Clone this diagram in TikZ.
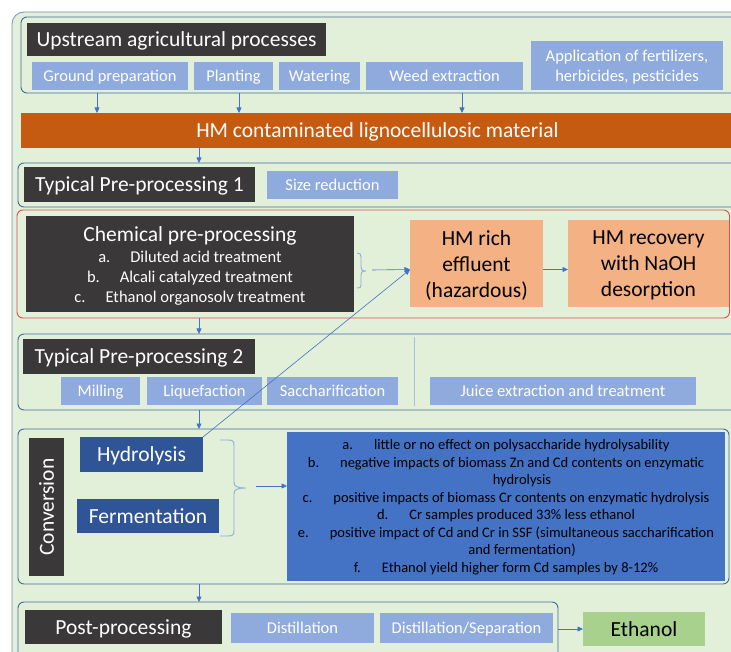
\documentclass[tikz,border=0pt]{standalone}
\usepackage{fontspec}
\setmainfont{Carlito}
\usetikzlibrary{arrows.meta,calc}

\definecolor{bgGreen}{HTML}{E2F0D9}
\definecolor{outerLine}{HTML}{7193C4}
\definecolor{frameLine}{HTML}{44689E}
\definecolor{redLine}{HTML}{DB5050}
\definecolor{darkBox}{HTML}{3A3838}
\definecolor{lightBox}{HTML}{8FAADC}
\definecolor{orangeBar}{HTML}{C55A11}
\definecolor{salmon}{HTML}{F4B183}
\definecolor{navyBox}{HTML}{2F5597}
\definecolor{midBlue}{HTML}{4472C4}
\definecolor{leafGreen}{HTML}{A9D18E}
\definecolor{arrowBlue}{HTML}{4472C4}
\definecolor{braceBlue}{HTML}{8FAADC}
\definecolor{sepBlue}{HTML}{A9BFDD}

% box from corner (x1,y1) to corner (x2,y2): name, style, x1, y1, x2, y2, text
\newcommand\mkbox[7]{%
  \pgfmathsetmacro\mkW{#5-#3}%
  \pgfmathsetmacro\mkH{#6-#4}%
  \node[#2, minimum width=\mkW pt, minimum height=\mkH pt] (#1) at ({(#3+#5)/2},{(#4+#6)/2}) {#7};}

\tikzset{
  every node/.style={inner sep=0pt, outer sep=0pt},
  bigfont/.style={font=\fontsize{21.5}{26}\selectfont},
  smallfont/.style={font=\fontsize{16.5}{20.5}\selectfont},
  listfont/.style={font=\fontsize{14.5}{17.5}\selectfont},
  bigline/.style={text height=17pt, text depth=3pt},
  smallline/.style={text height=14.5pt, text depth=3pt},
  outerframe/.style={draw=outerLine, fill=bgGreen, line width=0.8pt, rounded corners=12pt},
  frame/.style={draw=frameLine, line width=0.9pt, rounded corners=6pt},
  redframe/.style={draw=redLine, line width=0.9pt, rounded corners=6pt},
  darkplain/.style={fill=darkBox},
  darkbox/.style={fill=darkBox, text=white, bigfont, bigline},
  lightbox/.style={fill=lightBox, text=white, smallfont, smallline},
  lightplain/.style={fill=lightBox},
  orangebar/.style={fill=orangeBar, text=white, bigfont, bigline},
  salmonbox/.style={fill=salmon},
  navybox/.style={fill=navyBox, text=white, bigfont, bigline},
  resultbox/.style={fill=midBlue},
  greenbox/.style={fill=leafGreen, text=black, bigfont, bigline},
  multitext/.style={align=center},
  arr/.style={draw=arrowBlue, line width=0.6pt, -{Triangle[length=5.5pt,width=5pt]}},
  braceline/.style={draw=braceBlue, line width=0.9pt},
  sepline/.style={draw=sepBlue, line width=1pt},
}

\begin{document}
\begin{tikzpicture}[x=1pt,y=-1pt]
\clip (0,0) rectangle (731,652);
\fill[white] (0,0) rectangle (731,652);

% outer panel
\mkbox{outer}{outerframe}{12}{12}{760}{690}{}

% upstream agricultural processes
\mkbox{upF}{frame}{21}{17}{740}{93}{}
\mkbox{upT}{darkbox}{27}{23}{326}{56}{Upstream agricultural processes}
\mkbox{gp}{lightbox}{32}{62}{188}{90}{Ground preparation}
\mkbox{pl}{lightbox}{194}{62}{273}{90}{Planting}
\mkbox{wa}{lightbox}{279}{62}{360}{90}{Watering}
\mkbox{we}{lightbox}{366}{62}{523}{90}{Weed extraction}
\mkbox{ap}{lightplain}{531}{41}{723}{90}{}
\node[multitext, smallfont, text=white] (apTxt) at ([yshift=-1.5pt]ap.center) {Application of fertilizers,\\herbicides, pesticides};

% contaminated material
\mkbox{hm}{orangebar}{21}{113}{734}{148}{HM contaminated lignocellulosic material}

% typical pre-processing 1
\mkbox{tpOneF}{frame}{18}{163}{740}{207}{}
\mkbox{tpOneT}{darkbox}{24}{167}{255}{202}{Typical Pre-processing 1}
\mkbox{sr}{lightbox}{267}{171}{398}{199}{Size reduction}

% chemical pre-processing
\mkbox{chF}{redframe}{17}{210}{729.5}{318}{}
\mkbox{chT}{darkplain}{26}{216}{354}{312}{}
\node[bigfont, text=white, anchor=base] (chTitle) at (190,242) {Chemical pre-processing};
\node[smallfont, text=white, anchor=base] (chA) at (190,263) {a.\hspace{20pt}Diluted acid treatment};
\node[smallfont, text=white, anchor=base] (chB) at (190,283) {b.\hspace{20pt}Alcali catalyzed treatment};
\node[smallfont, text=white, anchor=base] (chC) at (190,303) {c.\hspace{20pt}Ethanol organosolv treatment};
\mkbox{eff}{salmonbox}{410}{220}{543}{307}{}
\node[multitext, bigfont, text=black] (effTxt) at ([yshift=-2pt]eff.center) {HM rich\\effluent\\(hazardous)};
\mkbox{rec}{salmonbox}{568}{220}{729}{307}{}
\node[multitext, bigfont, text=black] (recTxt) at ([yshift=-2pt]rec.center) {HM recovery\\with NaOH\\desorption};

% brace gathering the chemical treatments
\draw[braceline] (357,253) .. controls (360,253) and (361,254) .. (361,257) -- (361,267)
  .. controls (361,270) and (362,271) .. (366,271)
  .. controls (362,271) and (361,272) .. (361,275) -- (361,285)
  .. controls (361,288) and (360,288) .. (357,288);
\coordinate (chTip) at (372,270);

% typical pre-processing 2
\mkbox{tpTwoF}{frame}{18}{334}{740}{410}{}
\mkbox{tpTwoT}{darkbox}{23}{339}{255}{374}{Typical Pre-processing 2}
\mkbox{mi}{lightbox}{61}{377}{140}{405}{Milling}
\mkbox{lq}{lightbox}{147}{377}{262}{405}{Liquefaction}
\mkbox{sa}{lightbox}{267}{377}{398}{405}{Saccharification}
\coordinate (sepTop) at (414,337);
\coordinate (sepBot) at (414,406);
\draw[sepline] (sepTop) -- (sepBot);
\mkbox{ju}{lightbox}{430}{377}{696}{405}{Juice extraction and treatment}

% conversion
\mkbox{cvF}{frame}{18}{429}{729}{584}{}
\mkbox{cvT}{darkplain}{29}{438}{64}{576}{}
\node[bigfont, text=white, rotate=90] (cvTxt) at (cvT.center) {Conversion};
\mkbox{hy}{navybox}{80}{437}{203}{472}{Hydrolysis}
\mkbox{fe}{navybox}{77}{499}{219}{533}{Fermentation}
\draw[braceline] (220,440) -- (228,440) .. controls (233,440) and (234,441) .. (234,446) -- (234,482)
  .. controls (234,486) and (236,488) .. (246,488)
  .. controls (236,488) and (234,490) .. (234,494) -- (234,530)
  .. controls (234,535) and (233,536) .. (228,536) -- (220,536);
\coordinate (cvTip) at (256,486);
\mkbox{res}{resultbox}{287}{432}{725}{581}{}
\node[listfont, anchor=base] (rA) at (506,449.5) {a.\hspace{21pt}little or no effect on polysaccharide hydrolysability};
\node[listfont, anchor=base] (rB) at (506,467) {b.\hspace{21pt}negative impacts of biomass Zn and Cd contents on enzymatic};
\node[listfont, anchor=base] (rBb) at (522,484.5) {hydrolysis};
\node[listfont, anchor=base] (rC) at (506,502) {c.\hspace{21pt}positive impacts of biomass Cr contents on enzymatic hydrolysis};
\node[listfont, anchor=base] (rD) at (506,519.5) {d.\hspace{21pt}Cr samples produced 33\% less ethanol};
\node[listfont, anchor=base] (rE) at (506,537) {e.\hspace{21pt}positive impact of Cd and Cr in SSF (simultaneous saccharification};
\node[listfont, anchor=base] (rEb) at (522,554.5) {and fermentation)};
\node[listfont, anchor=base] (rF) at (506,572) {f.\hspace{21pt}Ethanol yield higher form Cd samples by 8-12\%};

% post-processing
\mkbox{poF}{frame}{18}{602}{558}{664}{}
\mkbox{poT}{darkbox}{25}{610}{222}{644}{Post-processing}
\mkbox{di}{lightbox}{231}{613}{374}{643}{Distillation}
\mkbox{ds}{lightbox}{380}{613}{553}{643}{Distillation/Separation}
\mkbox{et}{greenbox}{583}{612}{705}{646}{Ethanol}

% connectors
\coordinate (xA) at (97,0);
\coordinate (xB) at (239,0);
\coordinate (xC) at (462,0);
\coordinate (xM) at (199,0);
\draw[arr] (xA |- upF.south) -- (xA |- hm.north);
\draw[arr] (xB |- upF.south) -- (xB |- hm.north);
\draw[arr] (xC |- upF.south) -- (xC |- hm.north);
\draw[arr] (xM |- hm.south) -- (xM |- tpOneF.north);
\draw[arr] (xM |- chF.south) -- (xM |- tpTwoF.north);
\draw[arr] (xM |- tpTwoF.south) -- (xM |- cvF.north);
\draw[arr] (xM |- cvF.south) -- (xM |- poF.north);
\draw[arr] (chTip) -- ([yshift=-6pt]eff.west);
\draw[arr] (hy.north east) -- ([yshift=-6pt]eff.west);
\draw[arr] ([yshift=-6pt]eff.east) -- ([yshift=-6pt]rec.west);
\draw[arr] (cvTip) -- (cvTip -| res.west);
\draw[arr] (poF.east |- et.west) -- (et.west);
\end{tikzpicture}
\end{document}
